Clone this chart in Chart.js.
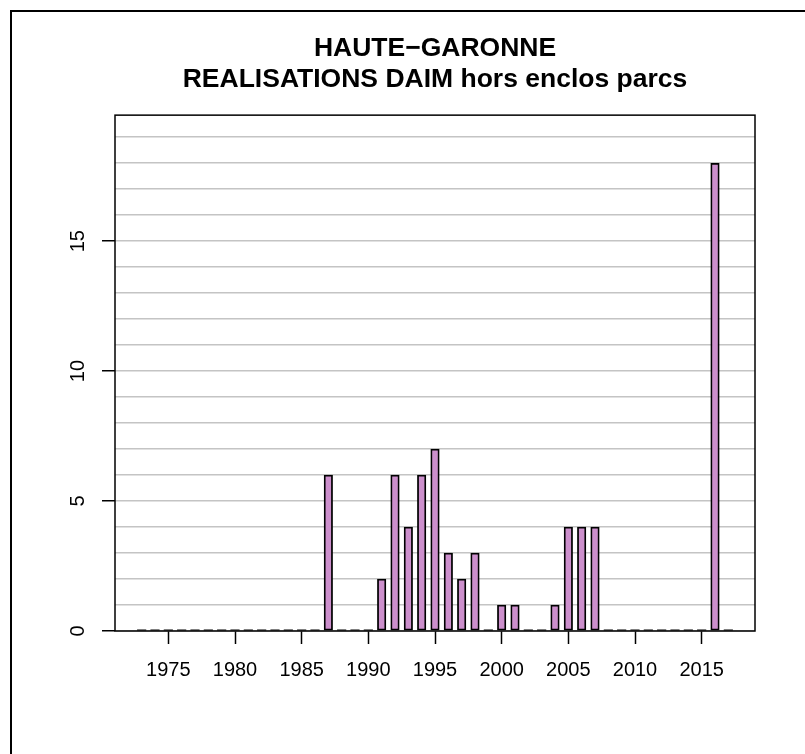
<!DOCTYPE html>
<html>
<head>
<meta charset="utf-8">
<script src="https://cdn.jsdelivr.net/npm/chart.js@4.4.1/dist/chart.umd.min.js"></script>
<style>
  html, body { margin: 0; padding: 0; background: #fff; overflow: hidden; }
  #wrap { position: relative; width: 805px; height: 754px; }
  #frame { position: absolute; left: 10px; top: 10px; width: 900px; height: 900px;
           border-left: 2px solid #000; border-top: 2px solid #000; }
  canvas { position: absolute; left: 0; top: 0; }
</style>
</head>
<body>
<div id="wrap">
  <div id="frame"></div>
  <canvas id="chart" width="805" height="754"></canvas>
</div>
<script>
// --- data ---
const titleLines = ["HAUTE\u2212GARONNE", "REALISATIONS DAIM hors enclos parcs"];
const years = [
  1973, 1974, 1975, 1976, 1977, 1978, 1979, 1980, 1981, 1982,
  1983, 1984, 1985, 1986, 1987, 1988, 1989, 1990, 1991, 1992,
  1993, 1994, 1995, 1996, 1997, 1998, 1999, 2000, 2001, 2002,
  2003, 2004, 2005, 2006, 2007, 2008, 2009, 2010, 2011, 2012,
  2013, 2014, 2015, 2016, 2017
];
const counts = [
  0, 0, 0, 0, 0, 0, 0, 0, 0, 0,
  0, 0, 0, 0, 6, 0, 0, 0, 2, 6,
  4, 6, 7, 3, 2, 3, 0, 1, 1, 0,
  0, 1, 4, 4, 4, 0, 0, 0, 0, 0,
  0, 0, 0, 18, 0
];
const xTicks = [1975, 1980, 1985, 1990, 1995, 2000, 2005, 2010, 2015];
const yTicks = [0, 5, 10, 15];

const FONT = "'Liberation Sans', Arial, Helvetica, sans-serif";

// black box round the plot region
const boxPlugin = {
  id: "box",
  afterDatasetsDraw(chart) {
    const { ctx, chartArea: a } = chart;
    ctx.save();
    ctx.strokeStyle = "#000";
    ctx.lineWidth = 1.5;
    ctx.strokeRect(a.left, a.top, a.right - a.left, a.bottom - a.top);
    ctx.restore();
  }
};

new Chart(document.getElementById("chart").getContext("2d"), {
  type: "bar",
  data: {
    datasets: [{
      data: years.map((y, i) => ({ x: y, y: counts[i] })),
      // empty years show as a flat black stroke on the baseline
      backgroundColor: c => (c.raw && c.raw.y === 0) ? "#000" : "#cc8fcc",
      borderColor: "#000",
      borderWidth: c => (c.raw && c.raw.y === 0) ? 0 : 1.8,
      borderSkipped: false,
      barThickness: 8.5,
      minBarLength: 1.2
    }]
  },
  options: {
    responsive: false,
    animation: false,
    layout: { padding: { left: 0, right: 50, top: 0, bottom: 0 } },
    plugins: {
      legend: { display: false },
      tooltip: { enabled: false },
      title: {
        display: true,
        fullSize: false,
        text: titleLines,
        color: "#000",
        font: { family: FONT, size: 26.5, weight: "bold", lineHeight: 1.18 },
        padding: { top: 33, bottom: 19.6 }
      }
    },
    scales: {
      x: {
        type: "linear",
        offset: false,
        min: 1971,
        max: 2019,
        afterBuildTicks: s => { s.ticks = xTicks.map(v => ({ value: v })); },
        afterFit: s => { s.height = 123; },
        border: { display: false },
        grid: { offset: false, drawOnChartArea: false, drawTicks: true, tickLength: 13, tickColor: "#000", tickWidth: 1.5 },
        ticks: {
          color: "#000",
          font: { family: FONT, size: 20 },
          padding: 14,
          maxRotation: 0,
          autoSkip: false,
          callback: v => String(v)
        }
      },
      y: {
        min: 0,
        max: 19.85,
        afterBuildTicks: s => {
          const t = [];
          for (let v = 0; v <= 19; v++) t.push({ value: v });
          s.ticks = t;
        },
        afterFit: s => { s.width = 115; },
        border: { display: false },
        grid: {
          color: "#c4c4c4",
          lineWidth: 1.5,
          drawTicks: true,
          tickLength: 13,
          tickWidth: 1.5,
          tickColor: c => (c.tick && yTicks.includes(c.tick.value)) ? "#000" : "rgba(0,0,0,0)"
        },
        ticks: {
          color: "#000",
          font: { family: FONT, size: 20 },
          minRotation: 90,
          maxRotation: 90,
          crossAlign: "center",
          padding: 12,
          autoSkip: false,
          callback: v => yTicks.includes(v) ? String(v) : ""
        }
      }
    }
  },
  plugins: [boxPlugin]
});
</script>
</body>
</html>
